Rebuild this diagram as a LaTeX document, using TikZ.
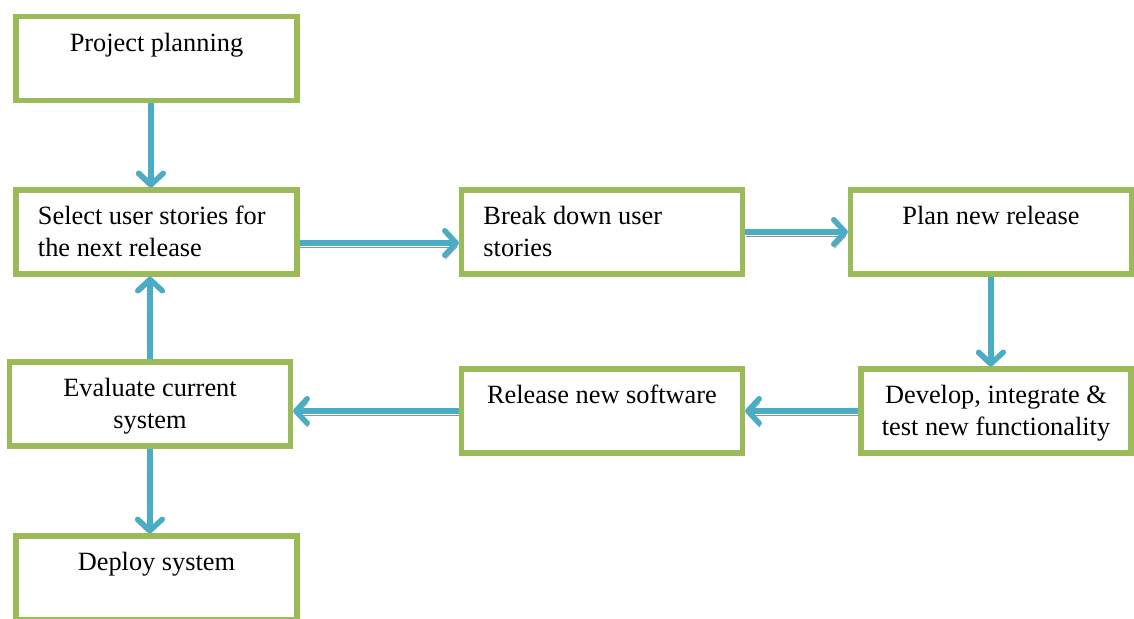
\documentclass[tikz,border=0pt]{standalone}
\usepackage{fontspec}
\setmainfont{Liberation Serif}
\usetikzlibrary{arrows.meta}
\definecolor{StageGreen}{HTML}{9BBB59}
\definecolor{FlowBlue}{HTML}{4BACC6}
\definecolor{FlowShade}{HTML}{959595}
% text set at the top of a stage box
\newcommand{\stagetext}[3][\centering]{\parbox[c][1.68cm][t]{#2}{#1\rule{0pt}{19.8pt}#3}}

\begin{document}
\begin{tikzpicture}[x=0.02cm,y=-0.02cm,
    stage/.style={draw=StageGreen,line width=3pt,fill=white,inner sep=0pt,
      minimum width=5.62cm,minimum height=1.68cm,font=\fontsize{15}{18}\selectfont},
    flow/.style={draw=FlowBlue,line width=3.1pt,-{Straight Barb[length=6.5pt,width=14pt,round]},
      preaction={draw=FlowShade,transform canvas={shift={#1}}}},
    flow/.default={(0.4pt,-2.2pt)}]
  \useasboundingbox (0,0) rectangle (1134,619);

  \node[stage] (proj) at (156.5,58.5) {\stagetext{5.62cm}{Project planning}};
  \node[stage] (sel) at (156.5,232) {\stagetext[\raggedright\leftskip=12.5pt]{5.62cm}{Select user stories for\\the next release}};
  \node[stage] (brk) at (602,232) {\stagetext[\raggedright\leftskip=12.5pt]{5.62cm}{Break down user\\stories}};
  \node[stage] (plan) at (991,232) {\stagetext{5.62cm}{Plan new release}};
  \node[stage,minimum width=5.4cm] (dev) at (996,411) {\stagetext{5.4cm}{Develop, integrate \&\\test new functionality}};
  \node[stage] (rel) at (602,411) {\stagetext{5.62cm}{Release new software}};
  \node[stage] (eval) at (150,404) {\stagetext{5.62cm}{Evaluate current\\system}};
  \node[stage] (dep) at (156.5,578) {\stagetext{5.62cm}{Deploy system}};

  % flow of the release cycle
  \draw[flow={(-1.4pt,-0.8pt)}] ([xshift=-0.11cm]proj.south) -- ([xshift=-0.11cm]sel.north);
  \draw[flow] ([yshift=-0.22cm]sel.east) -- ([yshift=-0.22cm]brk.west);
  \draw[flow] (brk.east) -- (plan.west);
  \draw[flow={(-1.4pt,-0.8pt)}] (plan.south) -- (plan.south |- dev.north);
  \draw[flow] (dev.west) -- (rel.east);
  \draw[flow] (rel.west) -- (rel.west -| eval.east);
  \draw[flow={(1.4pt,-0.8pt)}] (eval.north) -- (eval.north |- sel.south);
  \draw[flow={(-1.4pt,-0.8pt)}] (eval.south) -- (eval.south |- dep.north);
\end{tikzpicture}
\end{document}
